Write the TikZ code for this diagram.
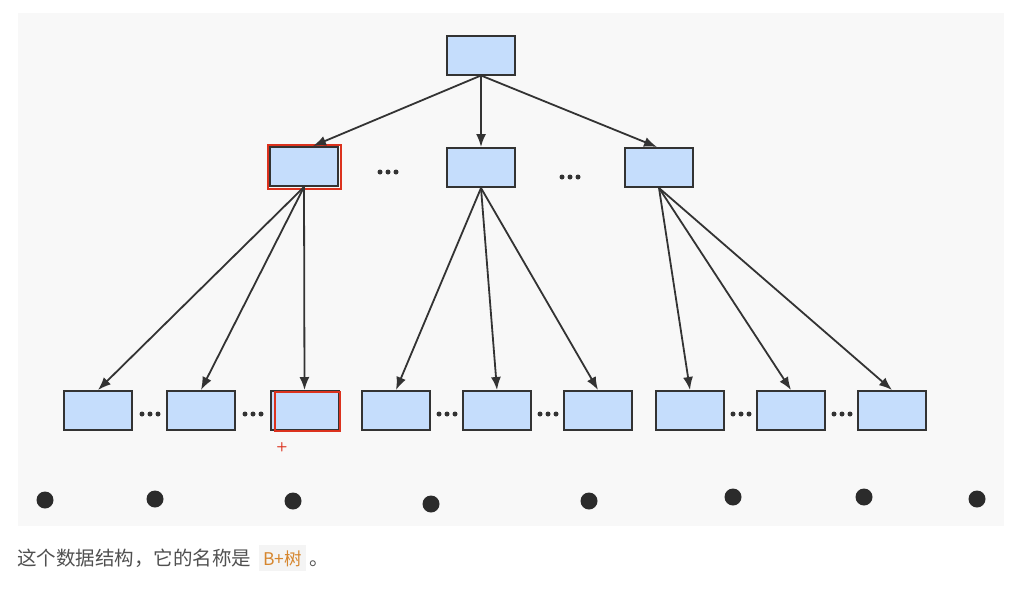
\documentclass[tikz,border=0pt]{standalone}
\usepackage{fontspec}
\newfontfamily\cjk{Noto Sans CJK SC}
\usetikzlibrary{arrows.meta,calc}
\definecolor{boxfill}{RGB}{197,221,252}
\definecolor{boxline}{RGB}{51,51,51}
\definecolor{panel}{RGB}{248,248,248}
\definecolor{hl}{RGB}{220,50,30}
\definecolor{txtgray}{RGB}{80,80,80}
\definecolor{codeor}{RGB}{214,134,46}
\definecolor{codebg}{RGB}{244,244,244}
\begin{document}
\begin{tikzpicture}[x=1pt,y=-1pt,
  bnode/.style={draw=boxline,fill=boxfill,line width=2pt,minimum width=68pt,minimum height=39pt,inner sep=0pt},
  link/.style={draw=boxline,line width=1.8pt,-{Latex[length=13pt,width=10pt]}},
  smalldot/.style={fill=boxline,draw=none,circle,minimum size=5pt,inner sep=0pt},
  bigdot/.style={fill=black!83,draw=none,circle,minimum size=17pt,inner sep=0pt},
  redbox/.style={draw=hl,line width=2pt},
  txt/.style={font=\cjk\fontsize{19.5}{22}\selectfont,text=txtgray,inner sep=0pt},
  code/.style={font=\cjk\fontsize{17.5}{20}\selectfont,text=codeor,fill=codebg,inner xsep=4pt,inner ysep=5pt}
]
\useasboundingbox (0,0) rectangle (1019,595);
\fill[panel] (18,13) rectangle (1004,526);

% tree nodes
\node[bnode] (root) at (481,55) {};
\node[bnode] (a) at (304,166.5) {};
\node[bnode] (b) at (481,167.5) {};
\node[bnode] (c) at (659,167.5) {};

\node[bnode] (a1) at (98,410.5) {};
\node[bnode] (a2) at (201,410.5) {};
\node[bnode] (a3) at (304.5,410.5) {};
\node[bnode] (b1) at (396,410.5) {};
\node[bnode] (b2) at (497,410.5) {};
\node[bnode] (b3) at (598,410.5) {};
\node[bnode] (c1) at (690,410.5) {};
\node[bnode] (c2) at (791,410.5) {};
\node[bnode] (c3) at (892,410.5) {};

% highlights
\draw[redbox] ($(a.south west)+(-1.5,1.5)$) rectangle ($(a.north east)+(1.5,-1.5)$);
\draw[redbox] (275,391.5) rectangle (a3.south east);
\node[text=hl,font=\sffamily\bfseries\fontsize{13}{13}\selectfont,inner sep=0pt] (plus) at (282,447) {+};

% connectors
\draw[link] (root.south) -- ([xshift=9pt]a.north);
\draw[link] (root.south) -- (b.north);
\draw[link] (root.south) -- ([xshift=-2pt]c.north);
\draw[link] (a.south) -- (a1.north);
\draw[link] (a.south) -- (a2.north);
\draw[link] (a.south) -- (a3.north);
\draw[link] (b.south) -- (b1.north);
\draw[link] (b.south) -- (b2.north);
\draw[link] (b.south) -- (b3.north);
\draw[link] (c.south) -- (c1.north);
\draw[link] (c.south) -- (c2.north);
\draw[link] (c.south) -- (c3.north);

% ellipses
\foreach \x/\y in {388/172, 570/177, 150/414, 253/414, 447/414, 548/414, 741/414, 842/414}{
  \node[smalldot] at (\x-8,\y) {};
  \node[smalldot] at (\x,\y) {};
  \node[smalldot] at (\x+8,\y) {};
}

% big dots
\foreach \x/\y in {45/500, 155/499, 293/501, 431/504, 589/501, 733/497, 864/497, 977/499}{
  \node[bigdot] at (\x,\y) {};
}

% caption
\node[txt,anchor=base west] (t1) at (17,565) {这个数据结构，它的名称是};
\node[code,anchor=base west] (t2) at (259,565) {B+树};
\node[txt,anchor=base west] (t3) at (t2.base east) {\,。};
\end{tikzpicture}
\end{document}
